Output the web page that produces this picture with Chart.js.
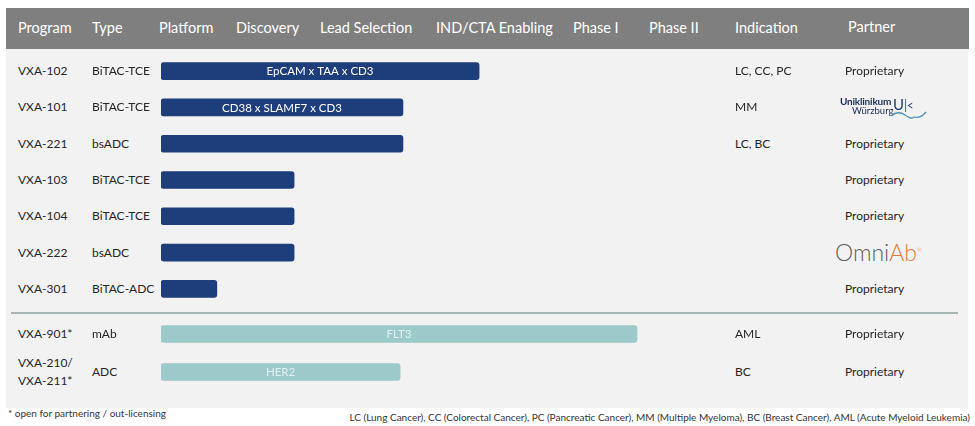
<!DOCTYPE html>
<html>
<head>
<meta charset="utf-8">
<script src="https://cdn.jsdelivr.net/npm/chart.js@4.4.1/dist/chart.umd.min.js"></script>
<style>
  html, body { margin: 0; padding: 0; background: #ffffff; }
  body { width: 975px; height: 426px; position: relative; overflow: hidden;
         font-family: Lato, "Open Sans", sans-serif; color: #262626; }
  .abs { position: absolute; white-space: nowrap; }
  #header { left: 6px; top: 8px; width: 963px; height: 41px; background: #7f7f7f; }
  #panel { left: 6px; top: 49px; width: 962px; height: 359px; background: #f2f2f2; }
  .hd { color: #ffffff; font-size: 14.5px; line-height: 20px; top: 18px; }
  .cell { font-size: 12px; line-height: 16px; }
  #sep { left: 11px; top: 312px; width: 947px; height: 2px; background: #a7b4b4; }
  .box { position: absolute; }
  .foot { font-size: 10px; line-height: 12px; color: #333; }
</style>
</head>
<body>
<div id="header" class="abs"></div>
<div id="panel" class="abs"></div>
<div id="sep" class="abs"></div>
<div id="box1" class="box" style="left:161px; top:53px; width:564px; height:254px;"><canvas id="c1"></canvas></div>
<div id="box2" class="box" style="left:161px; top:315px; width:564px; height:76px;"><canvas id="c2"></canvas></div>
<div class="abs foot" style="left:8px; top:407px;">* open for partnering / out-licensing</div>
<div class="abs foot" style="right:5px; top:411px;">LC (Lung Cancer), CC (Colorectal Cancer), PC (Pancreatic Cancer), MM (Multiple Myeloma), BC (Breast Cancer), AML (Acute Myeloid Leukemia)</div>

<script>
// — Column headers —
const columns = ['Program', 'Type', 'Platform', 'Discovery', 'Lead Selection',
                 'IND/CTA Enabling', 'Phase I', 'Phase II', 'Indication', 'Partner'];

// — Own pipeline (progress in % of the Platform → Phase II span) —
const programs    = ['VXA-102', 'VXA-101', 'VXA-221', 'VXA-103', 'VXA-104', 'VXA-222', 'VXA-301'];
const types       = ['BiTAC-TCE', 'BiTAC-TCE', 'bsADC', 'BiTAC-TCE', 'BiTAC-TCE', 'bsADC', 'BiTAC-ADC'];
const progress    = [56.4, 42.9, 42.9, 23.6, 23.6, 23.6, 9.9];
const targets     = ['EpCAM x TAA x CD3', 'CD38 x SLAMF7 x CD3', '', '', '', '', ''];
const indications = ['LC, CC, PC', 'MM', 'LC, BC', '', '', '', ''];
const partners    = ['Proprietary', 'UKW', 'Proprietary', 'Proprietary', 'Proprietary', 'OmniAb', 'Proprietary'];

// — Open for partnering —
const openPrograms    = ['VXA-901*', 'VXA-210/\nVXA-211*'];
const openTypes       = ['mAb', 'ADC'];
const openProgress    = [84.4, 42.4];
const openTargets     = ['FLT3', 'HER2'];
const openIndications = ['AML', 'BC'];
const openPartners    = ['Proprietary', 'Proprietary'];

// — Layout (left edge of each column, px) —
const headerLeft = [18, 92, 159, 236, 320, 436, 573, 649, 735, 848];
const colProgram = 18, colType = 92, colIndication = 735, colPartner = 845;

function addText(text, left, top, cls, style) {
  const d = document.createElement('div');
  d.className = 'abs ' + cls;
  d.style.left = left + 'px';
  d.style.top = top + 'px';
  if (style) d.style.cssText += style;
  d.textContent = text;
  document.body.appendChild(d);
  return d;
}

columns.forEach((c, i) => {
  addText(c, headerLeft[i], i === 9 ? 17 : 18, 'hd');
});

// — Bar label plugin —
const barLabels = {
  id: 'barLabels',
  afterDatasetsDraw(chart, args, opts) {
    const ctx = chart.ctx;
    const meta = chart.getDatasetMeta(0);
    ctx.save();
    ctx.font = opts.font;
    ctx.fillStyle = opts.color;
    ctx.textAlign = 'center';
    ctx.textBaseline = 'middle';
    meta.data.forEach((bar, i) => {
      const t = opts.labels[i];
      if (!t) return;
      const { x, y, base } = bar.getProps(['x', 'y', 'base'], true);
      ctx.fillText(t, (x + base) / 2, y + 0.5);
    });
    ctx.restore();
  }
};

function makeChart(id, labels, values, color, names, labelColor) {
  return new Chart(document.getElementById(id), {
    type: 'bar',
    data: {
      labels,
      datasets: [{
        data: values,
        backgroundColor: color,
        borderRadius: 3,
        borderSkipped: false,
        barThickness: 17
      }]
    },
    options: {
      indexAxis: 'y',
      responsive: true,
      maintainAspectRatio: false,
      animation: false,
      layout: { padding: 0 },
      scales: {
        x: { display: false, min: 0, max: 100 },
        y: { display: false }
      },
      plugins: {
        legend: { display: false },
        tooltip: { enabled: false },
        barLabels: { labels: names, color: labelColor, font: '11.5px Lato, "Open Sans", sans-serif' }
      }
    },
    plugins: [barLabels]
  });
}

const chart1 = makeChart('c1', programs, progress, '#1e3d7b', targets, '#ffffff');
const chart2 = makeChart('c2', openPrograms, openProgress, '#9cc9c9', openTargets, '#e4f1f1');

// — Row texts aligned to the chart rows —
function rowTexts(chart, boxTop, progs, typs, inds, parts) {
  progs.forEach((p, i) => {
    const y = boxTop + chart.scales.y.getPixelForValue(i);
    const lines = p.split('\n');
    if (lines.length > 1) {
      addText(lines[0], colProgram, y - 17, 'cell');
      addText(lines[1], colProgram, y + 1, 'cell');
    } else {
      addText(p, colProgram, y - 8, 'cell');
    }
    addText(typs[i], colType, y - 8, 'cell');
    if (inds[i]) addText(inds[i], colIndication, y - 8, 'cell');
    const part = parts[i];
    if (part === 'UKW') {
      const d = document.createElement('div');
      d.className = 'abs';
      d.style.left = '840px';
      d.style.top = (y - 12) + 'px';
      d.innerHTML =
        '<div style="position:relative;width:90px;height:26px;">' +
        '<span style="position:absolute;left:0;top:0;font-size:10px;font-weight:700;color:#1b2d55;letter-spacing:-0.2px;">Uniklinikum</span>' +
        '<span style="position:absolute;left:12px;top:10px;font-size:9.5px;color:#1b2d55;">Würzburg</span>' +
        '<span style="position:absolute;left:53px;top:0px;font-size:15px;color:#1d3f73;">U</span>' +
        '<span style="position:absolute;left:63px;top:1px;font-size:14px;color:#1d3f73;transform:scaleX(0.8);">|&lt;</span>' +
        '<svg style="position:absolute;left:50px;top:15px;" width="38" height="10"><path d="M1 6 Q8 0 15 5 T24 7 Q30 9 36 2" stroke="#4a8fb3" stroke-width="1.3" fill="none"/></svg>' +
        '</div>';
      document.body.appendChild(d);
    } else if (part === 'OmniAb') {
      const d = document.createElement('div');
      d.className = 'abs';
      d.style.left = '835px';
      d.style.top = (y - 15) + 'px';
      d.style.fontSize = '23px';
      d.style.lineHeight = '28px';
      d.style.fontWeight = '300';
      d.innerHTML = '<span style="color:#5e5e5e">Omni</span><span style="color:#e5793c">Ab</span><sup style="font-size:6px;color:#e5793c;vertical-align:top;position:relative;top:-2px;">®</sup>';
      document.body.appendChild(d);
    } else {
      addText(part, colPartner, y - 8, 'cell');
    }
  });
}

rowTexts(chart1, 53, programs, types, indications, partners);
rowTexts(chart2, 315, openPrograms, openTypes, openIndications, openPartners);
</script>
</body>
</html>
